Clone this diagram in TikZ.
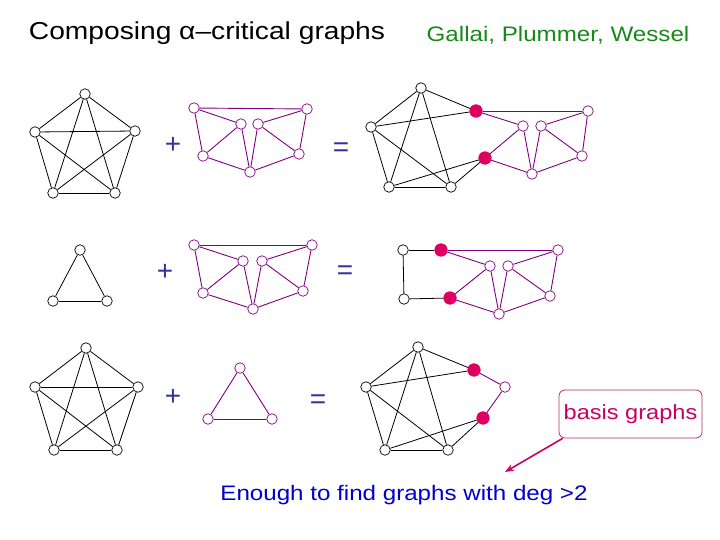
\documentclass[tikz,border=0pt]{standalone}
\usepackage{fontspec}
\setmainfont{Liberation Sans}
\usetikzlibrary{arrows.meta}
\definecolor{pur}{RGB}{128,0,128}
\definecolor{hot}{RGB}{222,0,96}
\definecolor{opblue}{RGB}{51,51,153}
\definecolor{grn}{RGB}{24,136,24}
\definecolor{txtblue}{RGB}{0,0,204}
\definecolor{bmag}{RGB}{200,0,100}
\definecolor{bbord}{RGB}{176,48,112}
\tikzset{
  v/.style={circle,draw=black,fill=white,minimum size=10.5pt,inner sep=0pt,line width=0.7pt},
  pv/.style={circle,draw=pur,fill=white,minimum size=10.5pt,inner sep=0pt,line width=0.7pt},
  rv/.style={circle,draw=hot,fill=hot,minimum size=12.5pt,inner sep=0pt,line width=0.7pt},
  be/.style={draw=black,line width=0.8pt},
  pe/.style={draw=pur,line width=0.9pt},
  op/.style={text=opblue,font=\fontsize{28}{32}\selectfont,inner sep=0pt},
}
\begin{document}
\begin{tikzpicture}[x=1pt,y=-1pt]
\useasboundingbox (0,0) rectangle (720,540);
% titles
\node[font=\fontsize{24.5}{28}\selectfont,inner sep=0pt] (title) at (207,33) {\scalebox{1.15}[1]{Composing α–critical graphs}};
\node[font=\fontsize{21}{24}\selectfont,text=grn,inner sep=0pt] (auth) at (558,35) {\scalebox{1.15}[1]{Gallai, Plummer, Wessel}};
\node[font=\fontsize{21}{24}\selectfont,text=txtblue,inner sep=0pt] (enough) at (404,495) {\scalebox{1.15}[1]{Enough to find graphs with deg >2}};
% operators
\node[op] (plus1) at (173,145) {+};
\node[op] (eq1) at (341,150) {=};
\node[op] (plus2) at (165,272) {+};
\node[op] (eq2) at (345,273) {=};
\node[op] (plus3) at (173,397) {+};
\node[op] (eq3) at (318,402) {=};
% ---------- row 1 ----------
\node[v] (a1) at (85,94) {};
\node[v] (a2) at (35,132) {};
\node[v] (a3) at (135,131) {};
\node[v] (a4) at (53,193) {};
\node[v] (a5) at (115,193) {};
\foreach \u/\w in {a1/a2,a1/a3,a1/a4,a1/a5,a2/a3,a2/a4,a2/a5,a3/a4,a3/a5,a4/a5} \draw[be] (\u) -- (\w);
\node[pv] (p1A) at (194,108) {};
\node[pv] (p1B) at (307,109) {};
\node[pv] (p1C) at (241,124) {};
\node[pv] (p1D) at (258,124) {};
\node[pv] (p1E) at (203,156) {};
\node[pv] (p1F) at (299,154) {};
\node[pv] (p1G) at (250,172) {};
\foreach \u/\w in {p1A/p1B,p1A/p1C,p1A/p1E,p1E/p1C,p1E/p1G,p1C/p1G,p1D/p1G,p1B/p1D,p1B/p1F,p1D/p1F,p1F/p1G} \draw[pe] (\u) -- (\w);
\node[v] (c1t) at (421,88) {};
\node[v] (c1l) at (371,127) {};
\node[v] (c1bl) at (389,187) {};
\node[v] (c1br) at (451,187) {};
\node[rv] (c1r1) at (476,111) {};
\node[rv] (c1r2) at (485,158) {};
\node[pv] (c1B) at (588,111) {};
\node[pv] (c1C) at (523,126) {};
\node[pv] (c1D) at (541,126) {};
\node[pv] (c1F) at (582,156) {};
\node[pv] (c1G) at (532,174) {};
\foreach \u/\w in {c1t/c1l,c1t/c1r1,c1l/c1r1,c1l/c1bl,c1l/c1br,c1t/c1bl,c1t/c1br,c1bl/c1br,c1bl/c1r2,c1br/c1r2} \draw[be] (\u) -- (\w);
\foreach \u/\w in {c1r1/c1B,c1r1/c1C,c1r2/c1C,c1r2/c1G,c1C/c1G,c1D/c1G,c1B/c1D,c1B/c1F,c1D/c1F,c1F/c1G} \draw[pe] (\u) -- (\w);
% ---------- row 2 ----------
\node[v] (t1) at (80,250) {};
\node[v] (t2) at (53,301) {};
\node[v] (t3) at (107,301) {};
\foreach \u/\w in {t1/t2,t1/t3,t2/t3} \draw[be] (\u) -- (\w);
\node[pv] (p2A) at (194,245) {};
\node[pv] (p2B) at (312,245) {};
\node[pv] (p2C) at (243,261) {};
\node[pv] (p2D) at (262,261) {};
\node[pv] (p2E) at (203,293) {};
\node[pv] (p2F) at (303,291) {};
\node[pv] (p2G) at (253,309) {};
\foreach \u/\w in {p2A/p2B,p2A/p2C,p2A/p2E,p2E/p2C,p2E/p2G,p2C/p2G,p2D/p2G,p2B/p2D,p2B/p2F,p2D/p2F,p2F/p2G} \draw[pe] (\u) -- (\w);
\node[v] (c2a) at (403,250) {};
\node[v] (c2b) at (404,299) {};
\node[rv] (c2r1) at (441,250) {};
\node[rv] (c2r2) at (450,298) {};
\node[pv] (c2B) at (558,250) {};
\node[pv] (c2C) at (490,266) {};
\node[pv] (c2D) at (508,266) {};
\node[pv] (c2F) at (550,296) {};
\node[pv] (c2G) at (499,314) {};
\foreach \u/\w in {c2a/c2r1,c2a/c2b,c2b/c2r2} \draw[be] (\u) -- (\w);
\foreach \u/\w in {c2r1/c2B,c2r1/c2C,c2r2/c2C,c2r2/c2G,c2C/c2G,c2D/c2G,c2B/c2D,c2B/c2F,c2D/c2F,c2F/c2G} \draw[pe] (\u) -- (\w);
% ---------- row 3 ----------
\node[v] (b1) at (86,348) {};
\node[v] (b2) at (35,387) {};
\node[v] (b3) at (138,387) {};
\node[v] (b4) at (54,450) {};
\node[v] (b5) at (117,450) {};
\foreach \u/\w in {b1/b2,b1/b3,b1/b4,b1/b5,b2/b3,b2/b4,b2/b5,b3/b4,b3/b5,b4/b5} \draw[be] (\u) -- (\w);
\node[pv] (q1) at (240,368) {};
\node[pv] (q2) at (208,419) {};
\node[pv] (q3) at (272,419) {};
\foreach \u/\w in {q1/q2,q1/q3,q2/q3} \draw[pe] (\u) -- (\w);
\node[v] (c3t) at (418,347) {};
\node[v] (c3l) at (366,387) {};
\node[v] (c3bl) at (385,450) {};
\node[v] (c3br) at (448,450) {};
\node[rv] (c3r1) at (474,370) {};
\node[pv] (c3p) at (505,387) {};
\node[rv] (c3r2) at (483,418) {};
\foreach \u/\w in {c3t/c3l,c3t/c3r1,c3l/c3r1,c3l/c3bl,c3l/c3br,c3t/c3bl,c3t/c3br,c3bl/c3br,c3bl/c3r2,c3br/c3r2} \draw[be] (\u) -- (\w);
\foreach \u/\w in {c3r1/c3p,c3p/c3r2} \draw[pe] (\u) -- (\w);
% basis graphs callout
\node[draw=bbord,line width=0.8pt,rounded corners=6pt,minimum width=143pt,minimum height=48pt,inner sep=0pt,text=bmag,font=\fontsize{20.5}{24}\selectfont] (basis) at (630.5,414) {\scalebox{1.15}[1]{basis graphs}};
\coordinate (tip) at (505,472);
\draw[bmag,line width=1.6pt,-{Stealth[length=9pt,width=7pt]}] ([xshift=4pt]basis.south west) -- (tip);
\end{tikzpicture}
\end{document}
